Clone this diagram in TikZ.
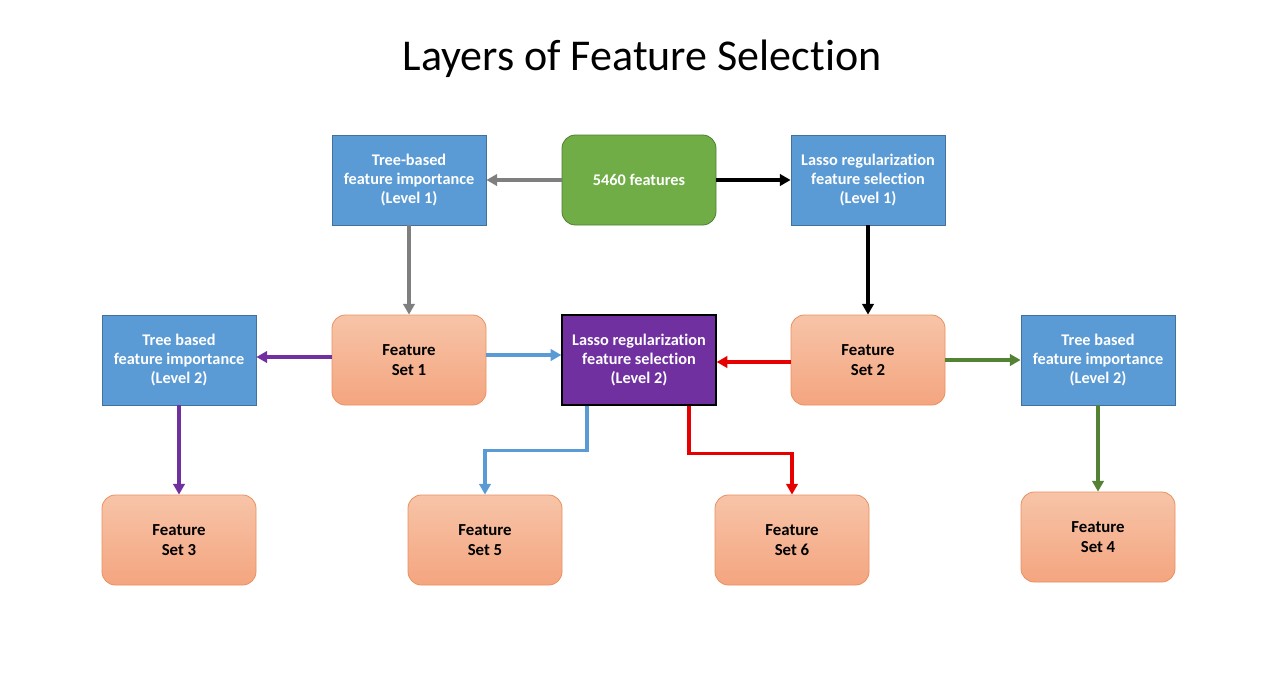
\documentclass[tikz,border=0pt]{standalone}
\usepackage{fontspec}
\setmainfont{Carlito}[Ligatures=NoCommon]
\usetikzlibrary{arrows.meta,calc}
\definecolor{boxblue}{HTML}{5B9BD5}
\definecolor{boxblueline}{HTML}{41719C}
\definecolor{boxgreen}{HTML}{70AD47}
\definecolor{boxgreenline}{HTML}{507E32}
\definecolor{boxpurple}{HTML}{7030A0}
\definecolor{orangetop}{HTML}{F7C4A8}
\definecolor{orangebot}{HTML}{F4A57F}
\definecolor{orangeline}{HTML}{E9905F}
\definecolor{arrgray}{HTML}{7F7F7F}
\definecolor{arrblue}{HTML}{5B9BD5}
\definecolor{arrred}{HTML}{E60000}
\definecolor{arrgreen}{HTML}{548235}
\begin{document}
\begin{tikzpicture}[x=0.75pt,y=-0.75pt,
  base/.style={minimum width=115.5pt,minimum height=67.5pt,inner sep=0pt,align=center,
    font=\bfseries\fontsize{12.2pt}{14.6pt}\selectfont},
  bluebox/.style={base,fill=boxblue,draw=boxblueline,line width=0.6pt,text=white},
  greenbox/.style={base,fill=boxgreen,draw=boxgreenline,line width=0.6pt,text=white,rounded corners=10pt},
  purplebox/.style={base,fill=boxpurple,draw=black,line width=0.9pt,text=white},
  setbox/.style={base,top color=orangetop,bottom color=orangebot,draw=orangeline,line width=0.6pt,
    rounded corners=10pt,text=black,font=\bfseries\fontsize{12.6pt}{15.5pt}\selectfont},
  conn/.style={line width=2.6pt,-{Triangle[length=8pt,width=8.5pt]}}
]
\useasboundingbox (0,0) rectangle (1280,672);
\node[font=\fontsize{33pt}{38pt}\selectfont] (title) at (642,59) {Layers of Feature Selection};

\node[bluebox] (tree1) at (409,180) {Tree-based\\feature importance\\(Level 1)};
\node[greenbox] (feat) at (639,180) {5460 features};
\node[bluebox] (lasso1) at (868,180) {Lasso regularization\\feature selection\\(Level 1)};

\node[bluebox] (tree2l) at (179,360) {Tree based\\feature importance\\(Level 2)};
\node[setbox] (set1) at (409,360) {Feature\\Set 1};
\node[purplebox] (lasso2) at (639,360) {Lasso regularization\\feature selection\\(Level 2)};
\node[setbox] (set2) at (868,360) {Feature\\Set 2};
\node[bluebox] (tree2r) at (1098,360) {Tree based\\feature importance\\(Level 2)};

\node[setbox] (set3) at (179,540) {Feature\\Set 3};
\node[setbox] (set5) at (485,540) {Feature\\Set 5};
\node[setbox] (set6) at (792,540) {Feature\\Set 6};
\node[setbox] (set4) at (1098,537) {Feature\\Set 4};

\draw[conn,arrgray] (feat.west) -- (tree1.east);
\draw[conn,black] (feat.east) -- (lasso1.west);
\draw[conn,arrgray] (tree1.south) -- (set1.north);
\draw[conn,black] (lasso1.south) -- (set2.north);
\draw[conn,boxpurple] ([yshift=2.25pt]set1.west) -- ([yshift=2.25pt]tree2l.east);
\draw[conn,arrblue] ([yshift=3.75pt]set1.east) -- ([yshift=3.75pt]lasso2.west);
\draw[conn,arrred] ([yshift=-1.5pt]set2.west) -- ([yshift=-1.5pt]lasso2.east);
\draw[conn,arrgreen] (set2.east) -- (tree2r.west);
\draw[conn,boxpurple] (tree2l.south) -- (set3.north);
\draw[conn,arrgreen] (tree2r.south) -- (set4.north);
\coordinate (b1) at ([xshift=-39pt]lasso2.south);
\coordinate (b2) at ($(b1)+(0,45)$);
\coordinate (r1) at ([xshift=37.5pt]lasso2.south);
\coordinate (r2) at ($(r1)+(0,48)$);
\draw[conn,arrblue] (b1) -- (b2) -| (set5.north);
\draw[conn,arrred] (r1) -- (r2) -| (set6.north);
\end{tikzpicture}
\end{document}
